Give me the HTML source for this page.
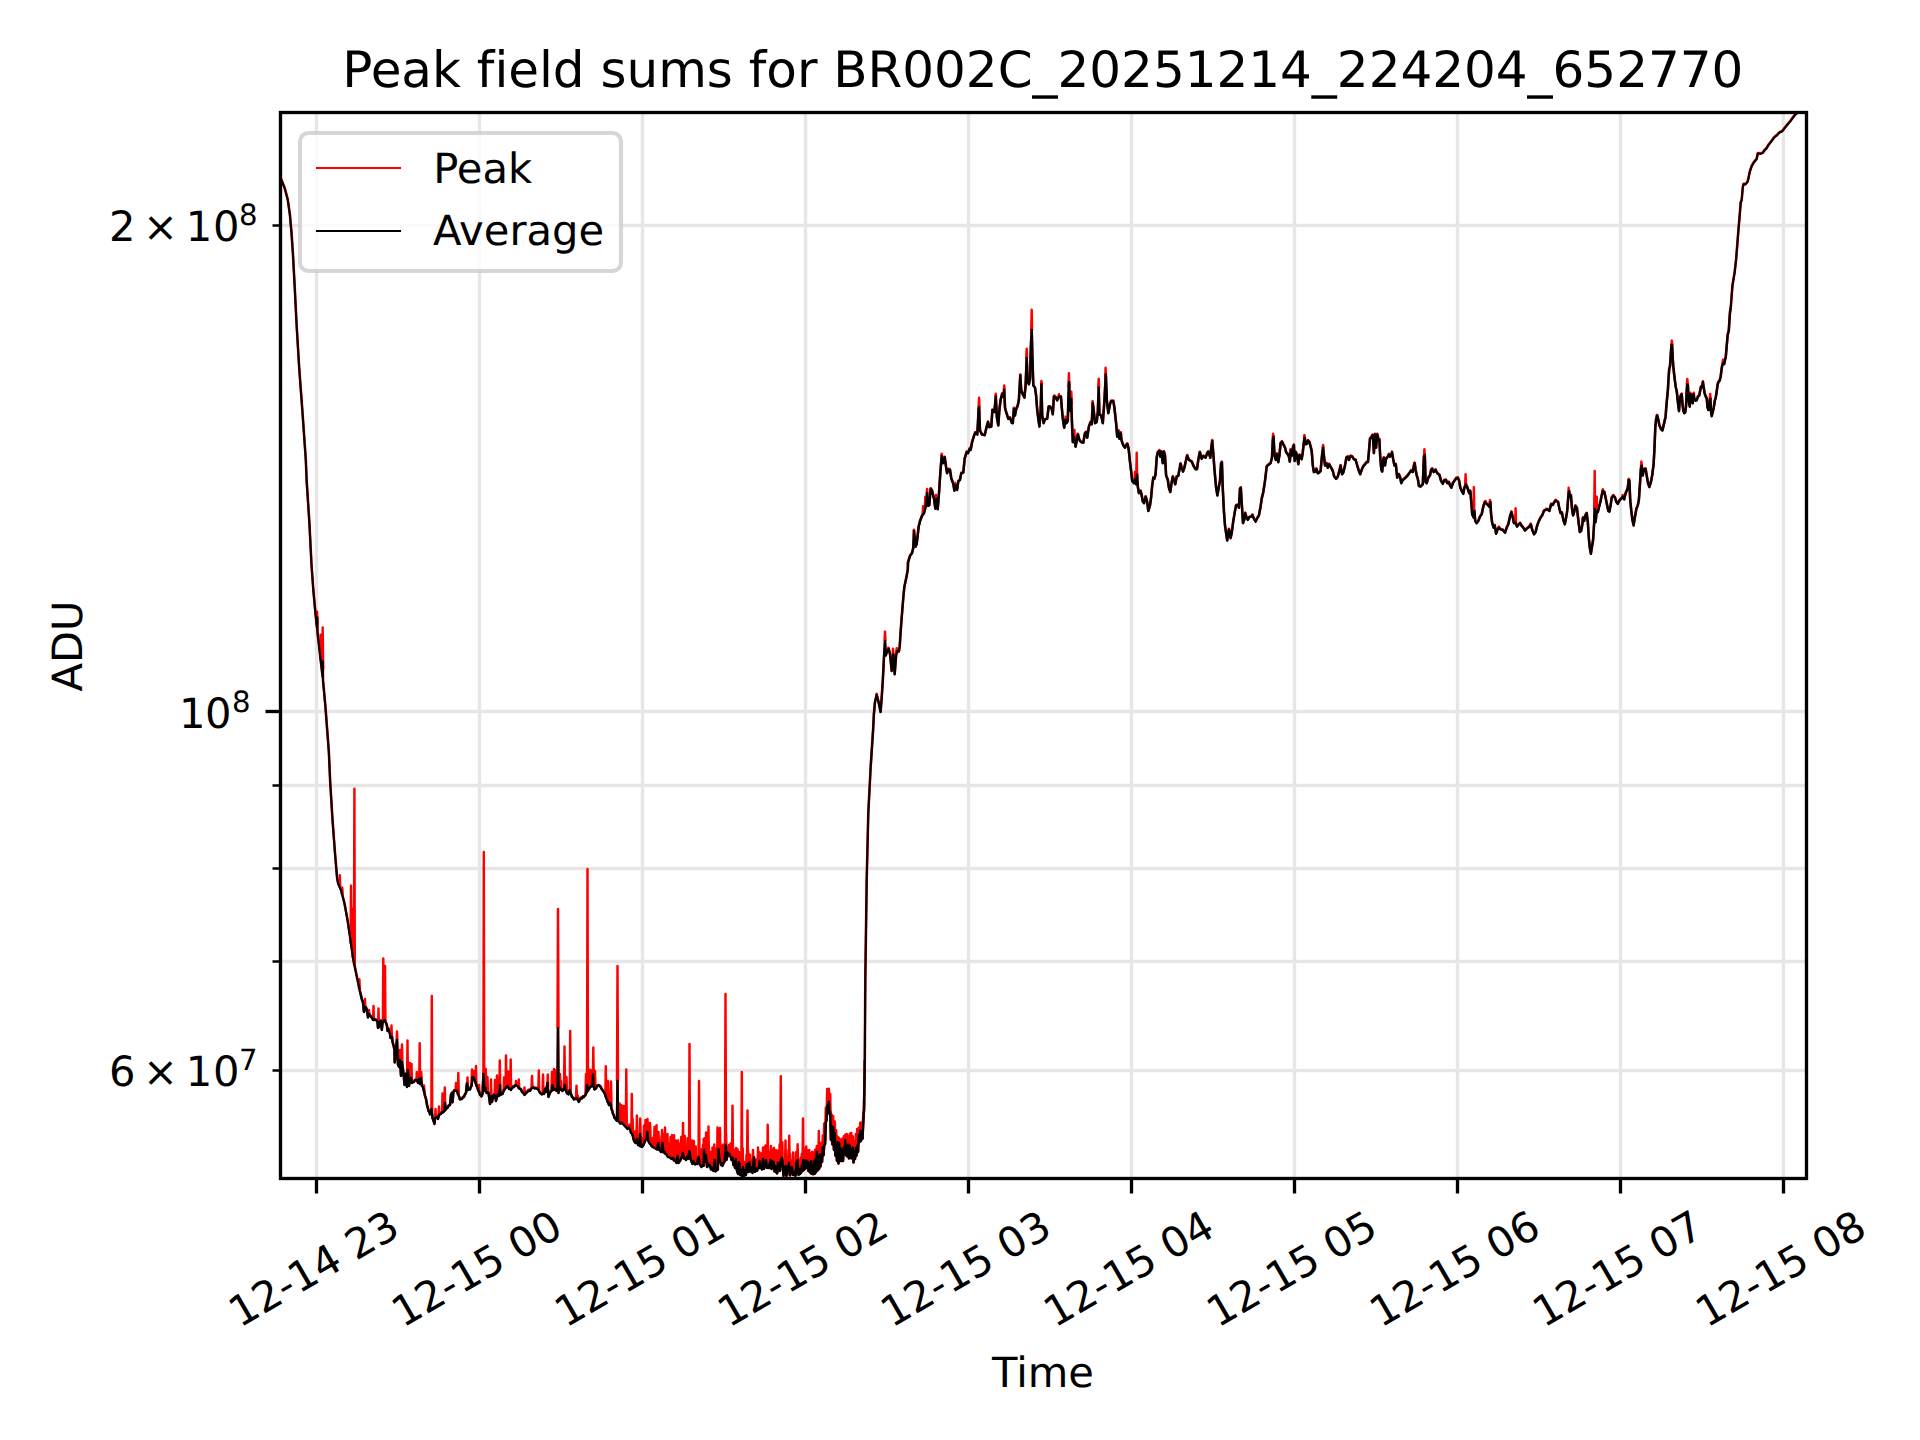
<!DOCTYPE html>
<html><head><meta charset="utf-8"><title>Peak field sums</title>
<style>
html,body{margin:0;padding:0;background:#fff;}
body{width:1920px;height:1440px;overflow:hidden;}
svg{display:block;}
text{font-family:"DejaVu Sans","Liberation Sans",sans-serif;fill:#000;font-variant-ligatures:none;text-rendering:geometricPrecision;font-feature-settings:"liga" 0,"clig" 0;}
.t10{font-size:41.67px;}
.t7{font-size:29.17px;}
.t12{font-size:50px;}
</style></head><body>
<svg width="1920" height="1440" viewBox="0 0 1920 1440">
<rect width="1920" height="1440" fill="#fff"/>
<defs><clipPath id="ax"><rect x="279.63" y="112" width="1526.68" height="1065.6"/></clipPath></defs>

<g stroke="#e6e6e6" stroke-width="3.33" fill="none">
<line x1="316.5" y1="112.5" x2="316.5" y2="1178.5"/>
<line x1="479.5" y1="112.5" x2="479.5" y2="1178.5"/>
<line x1="642.5" y1="112.5" x2="642.5" y2="1178.5"/>
<line x1="805.5" y1="112.5" x2="805.5" y2="1178.5"/>
<line x1="968.5" y1="112.5" x2="968.5" y2="1178.5"/>
<line x1="1131.5" y1="112.5" x2="1131.5" y2="1178.5"/>
<line x1="1294.5" y1="112.5" x2="1294.5" y2="1178.5"/>
<line x1="1457.5" y1="112.5" x2="1457.5" y2="1178.5"/>
<line x1="1620.5" y1="112.5" x2="1620.5" y2="1178.5"/>
<line x1="1783.5" y1="112.5" x2="1783.5" y2="1178.5"/>
<line x1="280.5" y1="225.5" x2="1806.5" y2="225.5"/>
<line x1="280.5" y1="711.5" x2="1806.5" y2="711.5"/>
<line x1="280.5" y1="785.5" x2="1806.5" y2="785.5"/>
<line x1="280.5" y1="868.5" x2="1806.5" y2="868.5"/>
<line x1="280.5" y1="961.5" x2="1806.5" y2="961.5"/>
<line x1="280.5" y1="1070.5" x2="1806.5" y2="1070.5"/>
</g>
<g stroke="#000" stroke-width="3.33" fill="none">
<line x1="316.5" y1="1178.5" x2="316.5" y2="1193.5"/>
<line x1="479.5" y1="1178.5" x2="479.5" y2="1193.5"/>
<line x1="642.5" y1="1178.5" x2="642.5" y2="1193.5"/>
<line x1="805.5" y1="1178.5" x2="805.5" y2="1193.5"/>
<line x1="968.5" y1="1178.5" x2="968.5" y2="1193.5"/>
<line x1="1131.5" y1="1178.5" x2="1131.5" y2="1193.5"/>
<line x1="1294.5" y1="1178.5" x2="1294.5" y2="1193.5"/>
<line x1="1457.5" y1="1178.5" x2="1457.5" y2="1193.5"/>
<line x1="1620.5" y1="1178.5" x2="1620.5" y2="1193.5"/>
<line x1="1783.5" y1="1178.5" x2="1783.5" y2="1193.5"/>
<line x1="265.5" y1="711.5" x2="280.5" y2="711.5"/>
</g><g stroke="#000" stroke-width="2.5" fill="none">
<line x1="272.5" y1="225.5" x2="280.5" y2="225.5"/>
<line x1="272.5" y1="785.5" x2="280.5" y2="785.5"/>
<line x1="272.5" y1="868.5" x2="280.5" y2="868.5"/>
<line x1="272.5" y1="961.5" x2="280.5" y2="961.5"/>
<line x1="272.5" y1="1070.5" x2="280.5" y2="1070.5"/>
</g>
<g clip-path="url(#ax)" fill="none" stroke-linejoin="round" stroke-linecap="butt">
<polyline stroke="#ff0000" stroke-width="2.6" points="279.6,174.1 280.4,177.2 284.6,187.6 287.7,199.1 289.8,213.7 291.5,232.4 292.9,253.2 294.6,284.5 296.7,326.2 299.2,367.8 302.3,409.5 305.8,459.5 306.7,481.2 309.4,522.8 311.5,564.5 313.3,589.5 315.4,612.4 317.0,627.4 317.2,617.0 317.4,630.5 318.1,637.4 321.2,664.5 322.6,676.6 322.8,660.8 323.0,680.3 323.3,683.2 325.4,706.2 328.8,750.8 330.2,782.0 332.5,819.5 335.0,852.8 337.1,877.8 338.1,883.0 341.2,890.3 344.4,902.8 347.5,919.5 350.6,940.3 353.3,959.1 356.7,975.8 359.8,990.3 362.0,999.5 363.0,1002.0 364.0,1011.5 365.0,1009.5 365.5,1006.5 366.2,1007.7 367.0,1009.5 368.0,1017.0 369.0,1013.5 370.0,1014.9 371.0,1016.5 372.0,1017.2 373.0,1019.5 373.8,1019.5 374.5,1018.9 375.2,1019.1 376.0,1019.5 376.8,1020.5 377.5,1021.5 378.0,1027.5 379.0,1026.5 379.5,1021.5 380.2,1020.4 381.0,1020.5 381.8,1029.5 382.5,1022.5 383.5,1021.0 384.5,1019.5 385.5,1021.5 386.2,1023.0 387.0,1025.5 387.5,1030.5 388.5,1028.5 389.2,1031.0 390.0,1033.5 390.5,1037.5 391.2,1036.9 392.0,1036.5 392.5,1041.5 393.5,1045.0 394.5,1049.5 394.7,1062.0 395.5,1055.5 396.5,1043.5 397.0,1039.5 398.0,1064.5 399.0,1066.5 400.0,1059.5 401.0,1075.5 402.0,1061.5 403.0,1069.5 403.8,1075.9 404.5,1084.5 405.5,1073.5 406.2,1079.9 407.0,1086.5 407.8,1069.5 409.0,1085.5 410.0,1079.5 411.0,1077.5 412.0,1082.5 413.0,1081.8 414.0,1081.5 415.0,1079.7 416.0,1079.5 417.0,1079.7 418.0,1082.5 419.0,1078.5 420.0,1083.5 421.0,1077.5 422.0,1085.5 422.8,1086.3 423.5,1088.5 424.2,1091.6 425.0,1095.5 426.0,1098.6 427.0,1104.5 427.8,1107.5 428.5,1110.5 429.2,1111.1 430.0,1114.0 430.8,1111.0 431.5,1108.5 432.5,1117.5 433.5,1120.4 434.5,1123.5 435.0,1118.0 436.0,1117.2 437.0,1116.5 438.0,1118.5 439.0,1114.5 440.0,1113.7 441.0,1113.5 442.0,1111.7 443.0,1112.0 443.8,1111.1 444.5,1110.5 445.0,1102.5 445.5,1109.5 446.5,1107.8 447.5,1107.5 448.3,1105.7 449.2,1105.1 450.0,1104.5 451.0,1094.5 452.0,1092.5 452.5,1102.0 453.5,1091.5 454.2,1090.1 455.0,1090.0 456.0,1090.2 457.0,1090.5 458.0,1093.5 459.0,1096.2 460.0,1099.0 461.0,1098.6 462.0,1098.5 463.0,1096.7 464.0,1096.5 465.0,1094.0 466.0,1092.5 467.0,1083.0 468.0,1089.5 469.0,1088.9 470.0,1089.0 470.8,1086.6 471.5,1085.5 472.5,1076.5 473.2,1076.7 474.0,1078.0 475.0,1080.5 475.8,1082.7 476.5,1085.5 477.2,1086.5 478.0,1089.5 479.0,1091.1 480.0,1094.5 480.8,1095.0 481.5,1096.0 482.5,1093.5 483.5,1073.5 484.5,1090.5 485.5,1087.5 486.5,1092.5 487.5,1091.8 488.5,1092.5 489.2,1097.4 490.0,1103.5 491.0,1095.5 492.0,1101.5 493.0,1096.5 493.8,1094.3 494.5,1094.5 495.2,1096.6 496.0,1100.5 496.8,1097.2 497.5,1094.5 498.2,1093.6 499.0,1095.5 500.0,1084.5 500.5,1094.5 501.5,1093.9 502.5,1093.5 503.3,1091.4 504.2,1089.2 505.0,1088.5 505.8,1087.4 506.7,1085.9 507.5,1085.5 508.2,1087.0 509.0,1088.5 510.0,1088.2 511.0,1089.5 511.8,1087.8 512.5,1087.3 513.2,1086.1 514.0,1086.5 514.8,1085.7 515.7,1084.6 516.5,1085.0 517.3,1085.3 518.2,1086.3 519.0,1088.0 519.8,1088.4 520.5,1088.6 521.2,1089.3 522.0,1091.5 522.8,1092.0 523.7,1092.7 524.5,1094.5 525.3,1093.6 526.2,1092.0 527.0,1092.0 527.8,1090.8 528.5,1089.9 529.2,1089.8 530.0,1090.5 531.0,1088.7 532.0,1087.5 532.8,1087.2 533.5,1086.9 534.2,1087.9 535.0,1088.0 535.8,1087.6 536.5,1088.1 537.2,1088.3 538.0,1088.5 539.0,1090.5 540.0,1092.5 542.0,1094.0 543.0,1092.9 544.0,1093.5 545.0,1088.5 546.0,1091.5 546.8,1086.9 547.5,1082.5 548.5,1096.5 549.2,1094.3 550.0,1092.5 550.8,1091.1 551.5,1090.5 552.5,1084.5 553.5,1089.5 554.2,1088.2 555.0,1089.0 555.8,1089.7 556.5,1090.5 557.5,1089.5 558.0,1028.0 558.5,1092.5 559.5,1086.5 560.2,1087.6 561.0,1089.5 561.8,1089.4 562.5,1090.5 563.2,1088.7 564.0,1089.0 564.8,1084.5 565.5,1089.5 566.2,1090.3 567.0,1093.0 567.8,1092.5 568.5,1094.0 569.8,1089.5 570.5,1092.5 571.2,1094.3 572.0,1096.5 573.0,1097.4 574.0,1099.0 574.8,1098.4 575.5,1098.5 576.5,1097.5 577.5,1099.0 578.8,1101.5 580.0,1099.0 581.0,1097.5 582.0,1098.0 583.0,1096.1 584.0,1096.5 584.8,1095.4 585.5,1094.5 586.5,1091.5 587.0,1084.5 588.0,1090.5 589.0,1088.5 590.0,1086.5 590.8,1086.1 591.5,1086.0 592.5,1084.5 593.0,1074.0 593.5,1085.5 594.5,1089.0 595.2,1088.3 596.0,1088.0 597.0,1085.5 597.8,1085.1 598.5,1085.0 599.2,1085.0 600.0,1086.0 600.8,1086.6 601.5,1088.5 602.2,1089.3 603.0,1090.5 603.8,1091.5 604.5,1092.5 605.2,1094.4 606.0,1097.0 606.8,1098.7 607.5,1101.0 608.2,1102.2 609.0,1104.5 609.8,1102.6 610.5,1103.0 611.5,1108.5 612.2,1110.3 613.0,1113.5 613.8,1115.0 614.5,1117.5 615.2,1117.9 616.0,1119.5 617.0,1120.5 617.5,1080.5 618.0,1120.5 619.0,1121.0 620.0,1123.0 620.8,1123.1 621.5,1122.2 622.2,1122.5 623.0,1123.5 627.5,1128.5 628.5,1127.0 629.5,1128.5 630.2,1129.2 631.0,1132.5 631.8,1133.0 632.5,1134.5 633.2,1137.0 634.0,1140.5 634.8,1141.4 635.5,1142.5 636.8,1138.5 638.0,1144.5 638.8,1144.0 639.5,1145.5 640.0,1133.5 640.8,1146.0 642.0,1146.5 642.8,1145.5 643.5,1144.5 644.2,1142.4 645.0,1140.5 645.8,1139.3 646.5,1138.5 647.5,1131.5 648.2,1140.5 649.1,1141.8 650.0,1143.5 651.0,1144.3 652.0,1146.0 652.8,1146.5 653.7,1147.0 654.5,1147.5 655.3,1147.8 656.2,1148.4 657.0,1149.0 658.3,1142.5 659.0,1149.5 660.0,1150.0 661.0,1151.5 661.8,1147.0 662.5,1142.5 663.5,1152.0 664.5,1151.2 665.5,1153.5 666.3,1153.5 667.2,1155.3 668.0,1156.5 668.8,1156.6 669.5,1156.8 670.2,1157.1 671.0,1158.0 671.8,1158.4 672.5,1157.5 673.2,1157.7 674.0,1160.0 674.8,1159.5 675.7,1160.3 676.5,1162.5 677.5,1155.5 678.5,1162.5 679.2,1161.4 680.0,1160.5 680.8,1158.8 681.5,1157.5 682.8,1152.5 683.8,1158.0 684.5,1157.6 685.3,1158.4 686.0,1159.5 687.0,1156.3 688.0,1158.5 688.8,1154.2 689.5,1150.5 690.5,1158.5 691.5,1161.0 692.5,1163.5 693.3,1160.4 694.2,1162.3 695.0,1164.0 696.0,1163.5 697.0,1163.5 697.9,1158.4 698.8,1156.5 699.5,1163.5 700.5,1165.0 701.5,1166.5 702.5,1164.5 703.5,1165.5 704.0,1149.5 705.0,1161.5 706.0,1154.5 707.0,1166.5 708.0,1162.6 709.0,1165.5 710.0,1164.4 711.0,1169.0 711.8,1167.3 712.7,1169.4 713.5,1170.5 714.5,1159.5 715.5,1171.0 716.5,1169.3 717.5,1169.5 718.5,1148.5 719.5,1158.5 720.2,1161.2 721.0,1164.5 721.8,1162.5 722.5,1165.5 723.5,1162.0 724.5,1161.5 725.8,1144.5 726.5,1159.5 727.5,1151.9 728.5,1154.5 729.2,1153.3 730.0,1155.5 730.8,1156.5 731.5,1159.5 732.5,1157.0 733.5,1164.5 734.2,1160.7 735.0,1167.5 735.8,1158.5 736.8,1169.5 738.0,1173.5 738.8,1161.6 739.5,1163.5 740.0,1174.5 741.0,1169.6 742.0,1176.0 743.0,1166.5 744.0,1176.0 745.0,1170.0 746.0,1174.5 746.8,1163.6 747.5,1163.5 748.5,1171.5 749.5,1162.0 750.5,1171.0 751.5,1167.0 752.5,1172.5 753.2,1163.7 754.0,1157.0 755.0,1171.5 756.0,1168.0 757.0,1170.5 758.0,1167.2 759.0,1167.5 759.5,1160.5 760.5,1166.5 761.2,1167.7 762.0,1169.0 763.0,1158.5 764.0,1168.5 765.0,1163.9 766.0,1159.5 767.0,1167.5 768.0,1166.2 769.0,1167.5 769.8,1162.3 770.5,1159.5 771.5,1168.5 772.5,1160.7 773.5,1161.5 774.5,1171.0 775.3,1165.1 776.2,1169.9 777.0,1173.0 778.0,1162.3 779.0,1164.5 780.0,1170.5 780.8,1160.3 781.7,1157.2 782.5,1160.5 783.5,1175.5 784.5,1168.6 785.5,1165.5 786.5,1175.5 787.3,1170.2 788.2,1165.8 789.0,1162.5 790.0,1175.0 791.0,1169.9 792.0,1166.5 793.0,1174.5 793.8,1173.9 794.7,1171.4 795.5,1175.5 796.5,1161.4 797.5,1159.5 798.5,1174.5 799.2,1168.4 800.0,1173.5 801.0,1171.8 801.8,1165.0 802.5,1170.6 803.2,1159.6 804.0,1169.3 804.8,1160.0 805.5,1168.0 806.2,1160.0 807.0,1166.5 807.8,1161.4 808.5,1170.5 809.2,1163.0 810.0,1172.0 810.8,1160.7 811.5,1173.2 812.2,1164.8 813.0,1173.7 813.8,1160.7 814.5,1173.4 815.2,1158.7 816.0,1171.7 816.8,1151.3 817.5,1170.0 818.2,1156.3 819.0,1168.5 819.8,1153.9 820.5,1166.0 821.2,1155.1 822.0,1161.5 822.8,1146.7 823.5,1154.8 824.2,1145.1 825.0,1143.8 825.8,1122.3 826.5,1119.5 827.2,1105.2 828.0,1105.5 828.8,1101.2 829.5,1113.5 830.2,1111.5 831.0,1139.5 831.8,1125.8 832.5,1144.0 833.2,1126.8 834.0,1149.5 834.8,1132.4 835.5,1155.2 836.2,1144.7 837.0,1160.5 837.8,1141.6 838.5,1163.0 839.2,1142.7 840.0,1160.5 840.8,1147.9 841.5,1160.5 842.2,1149.7 843.0,1160.5 843.8,1146.5 844.5,1153.5 845.2,1139.8 846.0,1154.7 846.8,1146.0 847.5,1156.1 848.2,1144.1 849.0,1157.9 849.8,1145.0 850.5,1157.5 851.2,1148.7 852.0,1157.9 852.8,1147.0 853.5,1162.0 854.2,1151.5 855.0,1158.6 855.8,1147.7 856.5,1155.1 857.2,1145.3 858.0,1151.5 858.8,1134.3 859.5,1141.5 860.2,1130.2 861.0,1140.5 861.8,1131.5 862.5,1138.1 863.2,1123.2 864.0,1109.5 864.8,1059.5 865.3,979.5 866.7,879.5 868.3,812.8 870.7,766.2 873.1,729.5 873.9,713.9 875.0,701.7 876.7,694.5 878.3,700.6 880.6,711.7 881.7,697.3 882.8,680.6 883.9,658.4 885.0,640.6 885.8,655.1 887.2,650.6 888.7,648.4 890.0,653.9 891.7,670.6 892.8,656.2 893.3,653.9 894.7,673.9 896.1,655.1 897.2,650.6 898.9,651.2 899.8,645.1 900.6,631.7 901.7,617.3 903.3,597.3 904.4,586.2 906.1,578.4 907.8,569.5 908.0,562.2 910.0,555.5 912.0,552.8 913.3,547.5 914.0,530.8 915.6,546.2 916.7,543.5 918.7,526.2 920.0,520.8 922.0,515.5 924.0,512.8 926.0,504.8 927.1,492.8 928.0,505.5 929.3,504.8 930.7,488.2 932.0,490.2 934.0,498.2 935.3,508.2 936.4,498.2 937.7,508.8 939.1,491.5 940.4,471.5 941.7,455.5 943.1,462.8 944.7,456.8 946.0,466.2 947.1,472.8 948.7,468.8 950.0,469.5 951.3,478.2 953.3,483.5 954.4,490.2 955.7,484.8 957.1,489.5 958.3,480.8 960.0,479.5 961.3,472.8 963.3,472.2 964.7,458.2 966.7,451.5 968.0,452.8 969.7,448.2 970.7,449.5 972.0,442.2 974.0,435.5 975.3,432.2 977.3,434.2 978.7,407.5 979.1,406.8 980.0,430.2 982.0,434.2 984.7,434.8 986.7,426.2 988.0,421.5 989.3,426.8 991.3,426.2 992.4,409.5 994.4,411.7 995.8,396.2 996.9,417.3 998.3,425.1 999.4,409.5 1000.6,399.5 1002.2,393.4 1003.3,396.2 1004.2,389.5 1005.0,407.3 1006.1,411.7 1008.3,418.4 1010.0,417.3 1011.7,422.3 1012.8,422.8 1013.9,408.4 1015.0,415.1 1016.1,408.9 1017.8,405.1 1018.9,399.5 1020.3,375.1 1021.3,390.6 1022.8,393.9 1024.4,397.3 1025.6,385.1 1026.7,357.8 1027.6,380.6 1028.9,383.9 1030.0,378.4 1030.9,345.1 1031.7,329.5 1032.4,356.2 1033.3,385.1 1035.0,387.3 1036.1,395.1 1037.2,409.5 1038.3,418.4 1039.4,426.2 1040.6,411.7 1041.4,383.9 1042.2,415.1 1043.6,422.8 1045.0,418.9 1047.2,418.4 1048.7,406.2 1050.0,406.2 1051.7,408.4 1052.8,413.9 1053.9,396.2 1055.6,396.7 1057.2,400.1 1058.9,396.2 1060.9,396.2 1061.7,406.2 1062.8,418.4 1064.2,427.3 1065.3,419.5 1066.4,422.8 1067.8,420.6 1068.3,400.6 1069.1,381.7 1070.0,410.1 1071.1,398.4 1072.0,422.8 1072.8,441.7 1073.9,436.2 1075.6,446.2 1076.7,440.6 1077.8,433.9 1079.4,439.5 1081.1,441.7 1083.3,442.3 1085.0,432.8 1086.1,431.7 1087.2,437.3 1088.9,426.2 1090.6,421.7 1091.7,423.9 1092.8,402.8 1093.9,411.7 1095.0,422.8 1096.7,421.7 1097.8,411.7 1098.7,387.3 1099.4,413.9 1101.1,415.1 1102.8,422.8 1104.4,400.6 1105.8,373.9 1106.9,400.6 1108.3,412.8 1110.0,403.9 1111.1,400.6 1113.3,400.6 1114.4,407.3 1116.1,422.8 1117.2,436.2 1118.3,430.6 1119.4,438.4 1120.6,432.8 1121.7,440.6 1123.3,445.1 1125.0,447.3 1126.7,443.9 1127.4,443.4 1128.6,448.4 1130.0,461.7 1131.1,470.6 1132.2,480.6 1133.9,482.8 1135.0,478.9 1136.1,483.9 1137.0,473.9 1137.8,486.2 1138.9,492.8 1140.6,490.6 1141.7,495.1 1142.8,501.2 1144.1,502.8 1145.6,496.2 1147.2,501.7 1148.3,510.6 1150.0,505.1 1151.1,497.3 1152.2,485.1 1153.3,477.3 1154.4,478.4 1155.6,473.9 1156.7,457.3 1157.8,451.7 1159.4,450.6 1160.3,456.2 1161.4,451.2 1162.8,462.8 1163.9,451.2 1165.0,455.1 1166.1,475.1 1167.8,479.5 1168.9,487.3 1170.3,491.7 1171.7,481.7 1172.8,476.2 1173.9,479.5 1175.2,483.9 1176.7,476.2 1178.3,475.6 1179.4,469.5 1180.6,463.4 1181.7,467.3 1183.0,471.2 1184.4,467.3 1185.6,461.7 1187.2,455.1 1188.9,459.5 1191.7,461.2 1193.9,466.2 1195.6,468.9 1197.0,468.9 1198.3,459.5 1199.8,451.7 1201.7,458.4 1203.3,455.6 1205.6,457.3 1207.2,452.8 1208.3,451.2 1210.3,457.3 1211.4,446.2 1212.2,440.6 1213.3,452.8 1214.4,468.4 1216.1,487.3 1217.4,495.1 1218.9,486.2 1220.0,480.6 1221.1,462.8 1221.9,461.7 1222.8,488.4 1223.9,510.6 1225.0,525.1 1226.1,532.8 1227.2,540.1 1228.9,528.9 1230.6,537.8 1231.7,532.8 1233.3,520.6 1235.0,510.6 1236.1,505.1 1237.8,504.5 1238.9,507.3 1240.0,488.4 1240.8,487.3 1241.9,505.1 1243.0,522.8 1244.4,518.9 1245.2,512.8 1246.3,516.2 1247.8,519.5 1249.4,516.7 1251.1,516.2 1252.4,514.5 1253.9,518.4 1255.6,521.2 1257.2,517.8 1258.9,515.1 1260.6,506.2 1261.7,498.4 1263.3,491.7 1265.0,480.6 1266.7,466.2 1268.3,464.5 1270.6,462.8 1272.0,457.3 1272.8,439.5 1273.6,436.2 1274.4,453.9 1275.8,459.5 1276.9,453.9 1278.3,461.7 1279.4,455.1 1280.6,442.8 1282.0,441.2 1283.3,443.9 1285.0,447.3 1286.1,451.7 1287.8,453.9 1288.9,456.2 1289.8,461.2 1290.9,449.5 1292.2,455.1 1293.1,446.2 1293.9,444.5 1294.7,460.6 1295.8,451.7 1297.2,456.2 1298.3,463.9 1299.4,454.5 1300.6,456.2 1301.7,458.9 1302.8,451.7 1303.9,441.7 1304.7,437.3 1305.8,443.9 1306.9,443.4 1308.0,440.1 1309.4,441.7 1310.6,446.2 1311.7,450.6 1312.8,465.1 1313.9,471.7 1315.3,471.2 1316.4,468.4 1317.8,472.8 1319.1,472.3 1320.6,470.6 1321.7,458.4 1322.4,451.7 1323.1,447.3 1323.9,455.1 1325.0,465.1 1326.4,462.8 1327.8,467.3 1329.1,463.9 1331.1,467.3 1332.8,470.6 1334.2,476.2 1336.1,478.4 1337.8,476.2 1339.1,471.7 1340.6,465.1 1342.0,473.9 1343.3,472.3 1345.0,465.1 1346.4,457.3 1347.8,456.2 1348.9,459.5 1350.6,455.6 1352.2,456.2 1353.9,458.9 1355.6,459.5 1357.2,465.1 1358.9,470.6 1360.2,473.9 1361.7,469.5 1363.1,466.2 1365.0,463.9 1366.7,461.7 1368.0,461.7 1368.9,451.7 1370.0,438.4 1371.7,436.2 1372.8,434.5 1373.9,452.8 1375.0,433.9 1376.1,447.3 1377.2,433.9 1378.3,438.9 1379.4,439.5 1380.2,456.2 1381.3,469.5 1382.2,471.2 1383.1,460.6 1383.9,457.3 1385.0,465.1 1386.1,458.4 1387.8,456.2 1388.9,453.9 1390.0,456.2 1391.1,455.1 1392.0,451.7 1393.1,458.4 1394.4,465.1 1395.8,463.9 1397.2,477.3 1398.9,473.9 1400.2,477.3 1401.3,482.8 1402.8,479.5 1404.4,478.4 1406.7,476.2 1408.9,473.4 1411.1,470.1 1412.8,471.7 1413.9,465.1 1414.7,462.8 1415.6,469.5 1416.7,475.1 1417.8,478.4 1418.9,485.6 1420.6,486.2 1422.8,483.9 1423.9,456.2 1424.8,454.5 1425.6,481.7 1426.7,482.8 1428.3,477.3 1430.0,475.1 1431.1,469.5 1432.2,468.4 1433.7,471.7 1435.6,469.5 1437.2,472.8 1439.4,474.5 1441.1,480.6 1442.8,483.4 1444.1,480.1 1445.9,479.5 1447.2,482.8 1448.9,481.7 1450.0,485.1 1451.4,487.3 1452.8,482.8 1454.4,480.6 1456.1,477.8 1457.8,477.3 1459.2,480.6 1460.3,487.3 1461.7,490.6 1463.3,493.4 1464.4,487.3 1465.9,483.9 1467.0,486.2 1468.1,489.5 1469.2,492.8 1470.3,490.6 1471.4,502.8 1472.2,513.9 1473.7,517.3 1474.4,510.6 1475.2,520.6 1476.7,522.8 1478.3,520.6 1480.0,516.2 1481.7,513.9 1483.3,506.2 1484.8,501.7 1486.1,502.8 1487.8,504.5 1489.2,506.2 1490.3,501.7 1491.1,513.9 1492.2,522.8 1493.7,527.3 1494.8,525.1 1496.1,533.4 1497.4,529.5 1498.9,527.3 1500.6,528.9 1502.8,529.5 1505.0,532.3 1506.7,527.3 1508.3,523.9 1510.0,516.2 1511.4,511.7 1512.6,516.2 1513.9,522.8 1515.6,522.3 1517.0,526.2 1518.3,524.5 1520.0,522.8 1521.4,525.1 1523.3,527.3 1525.0,530.1 1527.2,527.8 1528.9,526.7 1530.8,523.9 1532.2,529.5 1534.1,533.9 1535.6,531.7 1537.2,525.1 1538.9,520.6 1540.6,517.3 1542.2,515.1 1543.9,510.6 1545.6,509.5 1547.2,508.9 1549.4,510.6 1551.1,503.9 1552.8,504.5 1554.4,501.7 1555.9,500.1 1558.1,501.7 1559.4,508.4 1560.6,512.8 1561.9,512.3 1562.0,512.8 1563.3,519.5 1564.8,523.9 1566.1,517.3 1567.2,510.6 1568.3,496.2 1569.1,490.6 1570.0,496.2 1570.9,495.1 1572.0,508.4 1573.1,515.1 1574.2,511.7 1575.3,505.6 1576.9,507.3 1578.3,519.5 1579.8,531.7 1581.1,530.6 1582.2,525.1 1583.1,517.3 1584.2,520.6 1585.3,515.1 1586.7,512.8 1587.8,521.7 1588.9,538.4 1589.8,547.3 1590.9,553.4 1592.0,546.2 1593.1,539.5 1594.2,521.7 1594.7,508.4 1595.6,521.7 1596.7,510.6 1597.8,511.7 1598.9,507.3 1600.6,500.6 1601.7,495.1 1602.8,490.6 1604.4,491.7 1605.6,497.3 1606.9,503.9 1608.3,510.6 1609.4,511.2 1610.6,505.1 1611.7,497.3 1613.3,495.1 1615.0,497.3 1616.4,501.7 1617.8,503.4 1619.4,500.1 1621.1,498.4 1622.8,496.2 1624.2,498.9 1625.6,492.8 1626.7,490.6 1627.8,487.3 1628.7,479.5 1629.4,480.6 1630.2,499.5 1631.3,510.6 1632.4,519.5 1633.6,525.1 1635.0,516.2 1636.4,508.4 1637.8,505.1 1638.9,499.5 1640.0,482.8 1640.9,468.4 1641.7,465.1 1642.8,475.1 1643.9,468.9 1645.6,468.4 1646.7,475.1 1648.0,482.8 1649.4,486.7 1650.9,481.7 1652.2,475.1 1653.6,463.9 1654.4,449.5 1655.3,427.3 1656.1,418.9 1657.2,415.1 1658.3,419.5 1659.4,425.1 1661.1,428.9 1662.4,430.1 1663.9,423.9 1665.6,416.2 1666.2,407.8 1667.1,397.8 1667.9,389.5 1668.5,378.7 1669.2,368.7 1670.0,366.2 1670.8,353.7 1671.5,344.5 1672.1,344.5 1672.7,357.8 1673.3,366.2 1674.2,374.5 1675.0,381.2 1675.8,387.0 1676.8,391.2 1677.9,402.0 1679.0,410.8 1679.8,399.5 1680.7,395.3 1681.7,393.7 1682.5,403.7 1683.3,410.3 1684.2,412.8 1685.2,412.0 1686.0,406.2 1686.7,391.2 1687.2,383.7 1687.9,384.5 1688.5,397.8 1689.2,403.7 1689.8,406.2 1690.4,393.7 1691.0,394.5 1691.7,399.5 1692.7,402.8 1693.5,393.7 1694.2,397.8 1695.4,400.3 1696.7,399.9 1697.9,396.2 1699.2,395.3 1700.0,391.2 1701.0,386.2 1702.1,386.2 1702.9,381.6 1703.8,387.8 1704.6,392.8 1705.7,396.2 1706.7,397.8 1707.5,407.0 1708.3,409.5 1709.2,408.7 1709.8,399.5 1710.4,398.2 1711.0,411.2 1711.7,415.8 1712.7,412.0 1713.8,407.0 1714.8,400.3 1715.8,397.0 1716.7,391.2 1717.7,383.7 1718.5,381.6 1719.6,380.3 1720.7,376.2 1721.5,369.5 1722.3,364.5 1723.2,362.8 1724.2,363.7 1725.0,359.5 1725.8,356.2 1726.5,347.8 1727.1,341.2 1727.7,334.5 1728.8,330.3 1729.3,322.0 1730.0,312.0 1730.8,307.0 1732.4,285.6 1733.3,280.1 1734.7,271.7 1736.1,259.2 1737.2,245.3 1738.3,231.4 1739.7,214.8 1740.7,202.3 1741.7,199.5 1742.8,187.0 1743.5,183.9 1745.6,183.9 1747.6,181.4 1748.6,177.3 1749.7,171.7 1751.8,165.5 1753.9,162.0 1756.7,158.5 1757.8,153.0 1760.8,153.4 1762.9,152.3 1764.3,150.2 1766.4,148.1 1768.5,144.6 1771.2,141.2 1774.0,137.3 1776.8,134.9 1779.6,132.1 1782.4,130.8 1784.4,128.0 1787.2,124.5 1790.7,120.3 1794.2,115.5 1796.9,112.7 1799.7,112.0 1806.7,111.7"/>
<polyline stroke="#ff0000" stroke-width="2.5" points="801.0,1172.3 801.8,1154.1 802.5,1171.1 803.2,1150.5 804.0,1169.8 804.8,1149.0 805.5,1168.5 806.2,1146.5 807.0,1167.0 807.8,1150.6 808.5,1171.0 809.2,1150.1 810.0,1172.5 810.8,1153.5 811.5,1173.7 812.2,1151.8 813.0,1174.2 813.8,1152.6 814.5,1173.9 815.2,1149.7 816.0,1172.2 816.8,1146.0 817.5,1170.5 818.2,1146.0 819.0,1169.0 819.8,1144.7 820.5,1166.5 821.2,1142.7 822.0,1162.0 822.8,1135.2 823.5,1155.2 824.2,1123.5 825.0,1144.3 825.8,1107.7 826.5,1120.0 827.2,1088.9 828.0,1106.0 828.8,1088.8 829.5,1114.0 830.2,1093.9 831.0,1140.0 831.8,1114.7 832.5,1144.5 833.2,1116.2 834.0,1150.0 834.8,1121.6 835.5,1155.8 836.2,1130.2 837.0,1161.0 837.8,1136.7 838.5,1163.5 839.2,1138.1 840.0,1161.0 840.8,1139.8 841.5,1161.0 842.2,1138.8 843.0,1161.0 843.8,1136.3 844.5,1154.0 845.2,1134.7 846.0,1155.2 846.8,1133.9 847.5,1156.6 848.2,1136.2 849.0,1158.4 849.8,1133.7 850.5,1158.0 851.2,1132.9 852.0,1158.4 852.8,1136.2 853.5,1162.5 854.2,1141.7 855.0,1159.1 855.8,1134.3 856.5,1155.6 857.2,1129.1 858.0,1152.0 858.8,1127.7 859.5,1142.0 860.2,1122.7 861.0,1141.0 861.8,1122.2 862.5,1138.6 863.2,1113.2 864.0,1110.0 864.8,1060.0"/>
<path stroke="#ff0000" stroke-width="2.45" stroke-linejoin="round" d="M316.6,625.3L317.1,611.8L317.5,625.3M322.3,669.2L322.7,627.5L323.2,669.2M320.2,659.6L320.6,634.8L321.1,659.6M339.3,887.4L339.8,875.2L340.2,887.4M341.8,895.0L342.3,887.7L342.7,895.0M350.6,943.7L351.0,885.6L351.5,943.7M352.7,958.1L353.1,908.5L353.6,958.1M353.9,964.8L354.4,788.7L354.8,964.8M358.9,988.9L359.4,979.3L359.8,988.9M364.6,1010.0L365.0,999.0L365.4,1010.0M368.6,1014.0L369.0,1010.0L369.4,1014.0M373.1,1020.0L373.5,1006.0L373.9,1020.0M378.1,1027.5L378.5,1008.5L378.9,1027.5M382.9,1021.8L383.3,958.5L383.8,1021.8M384.6,1021.0L385.0,966.0L385.4,1021.0M391.1,1037.3L391.5,1025.5L391.9,1037.3M396.6,1040.0L397.0,1031.5L397.4,1040.0M399.6,1060.0L400.0,1050.0L400.4,1060.0M401.6,1062.0L402.0,1044.5L402.4,1062.0M407.1,1076.4L407.5,1040.5L407.9,1076.4M409.6,1080.0L410.0,1063.0L410.4,1080.0M411.1,1080.5L411.5,1064.0L411.9,1080.5M416.4,1081.2L416.8,1072.0L417.2,1081.2M419.2,1082.5L419.7,1043.2L420.1,1082.5M420.8,1079.6L421.2,1072.0L421.6,1079.6M423.6,1091.3L424.0,1085.5L424.4,1091.3M431.4,1111.7L431.8,996.0L432.2,1111.7M435.1,1118.1L435.5,1109.0L435.9,1118.1M438.6,1115.0L439.0,1106.5L439.4,1115.0M442.1,1112.9L442.5,1093.5L442.9,1112.9M444.4,1106.2L444.8,1087.5L445.2,1106.2M455.6,1090.8L456.0,1083.0L456.4,1090.8M457.9,1094.8L458.3,1073.0L458.8,1094.8M467.1,1086.8L467.5,1077.5L467.9,1086.8M471.6,1081.5L472.0,1069.5L472.4,1081.5M473.6,1078.5L474.0,1071.0L474.4,1078.5M475.6,1084.3L476.0,1066.0L476.4,1084.3M478.6,1092.5L479.0,1085.0L479.4,1092.5M483.4,1079.1L483.8,852.0L484.2,1079.1M485.4,1089.5L485.8,1069.0L486.2,1089.5M487.1,1093.0L487.5,1077.0L487.9,1093.0M490.6,1096.0L491.0,1079.5L491.4,1096.0M494.6,1097.0L495.0,1080.0L495.4,1097.0M496.6,1097.0L497.0,1075.5L497.4,1097.0M499.4,1087.2L499.8,1060.5L500.2,1087.2M503.6,1091.0L504.0,1077.5L504.4,1091.0M505.6,1087.8L506.0,1055.5L506.4,1087.8M507.8,1087.4L508.2,1071.5L508.6,1087.4M510.2,1089.8L510.7,1059.5L511.1,1089.8M515.5,1085.8L516.0,1081.0L516.5,1085.8M518.3,1088.3L518.8,1079.5L519.2,1088.3M524.0,1095.0L524.5,1087.5L525.0,1095.0M531.5,1088.0L532.0,1076.0L532.5,1088.0M538.3,1090.6L538.8,1070.5L539.2,1090.6M542.5,1094.2L543.0,1074.5L543.5,1094.2M547.3,1087.2L547.8,1074.5L548.2,1087.2M551.5,1088.0L552.0,1072.0L552.5,1088.0M553.5,1089.8L554.0,1069.0L554.5,1089.8M554.5,1089.5L555.0,1070.0L555.5,1089.5M557.5,1028.5L558.0,909.0L558.5,1028.5M559.5,1088.0L560.0,1074.0L560.5,1088.0M560.5,1090.0L561.0,1081.0L561.5,1090.0M564.0,1086.7L564.5,1046.5L565.0,1086.7M566.0,1092.3L566.5,1077.0L567.0,1092.3M569.8,1091.7L570.2,1031.0L570.7,1091.7M576.0,1098.0L576.5,1085.8L577.0,1098.0M577.5,1100.5L578.0,1096.0L578.5,1100.5M585.5,1093.5L586.0,1074.0L586.5,1093.5M587.0,1088.0L587.5,869.0L588.0,1088.0M588.5,1089.0L589.0,1069.5L589.5,1089.0M590.0,1086.8L590.5,1070.0L591.0,1086.8M592.8,1081.4L593.3,1047.5L593.8,1081.4M594.5,1089.2L595.0,1071.0L595.5,1089.2M605.3,1096.9L605.8,1066.2L606.2,1096.9M607.5,1102.7L608.0,1081.0L608.5,1102.7M610.5,1106.2L611.0,1081.5L611.5,1106.2M617.0,1081.0L617.5,966.0L618.0,1081.0M619.0,1122.9L619.5,1103.5L620.0,1122.9M620.5,1123.7L621.0,1105.0L621.5,1123.7M622.5,1124.0L623.0,1106.0L623.5,1124.0M624.5,1123.7L625.0,1106.0L625.5,1123.7M625.8,1126.0L626.3,1069.5L626.8,1126.0M631.3,1134.1L631.8,1094.0L632.2,1134.1M636.3,1139.0L636.8,1121.5L637.2,1139.0M639.8,1137.1L640.2,1118.5L640.7,1137.1M645.0,1140.3L645.5,1120.0L646.0,1140.3M647.0,1132.0L647.5,1119.0L648.0,1132.0M649.5,1144.0L650.0,1123.0L650.5,1144.0M654.0,1148.0L654.5,1127.0L655.0,1148.0M658.0,1145.0L658.5,1132.0L659.0,1145.0M661.5,1146.0L662.0,1130.0L662.5,1146.0M664.5,1153.6L665.0,1127.5L665.5,1153.6M667.0,1156.4L667.5,1134.0L668.0,1156.4M670.0,1158.2L670.5,1137.0L671.0,1158.2M675.0,1162.0L675.5,1140.5L676.0,1162.0M677.5,1159.5L678.0,1140.5L678.5,1159.5M680.8,1158.6L681.2,1137.0L681.7,1158.6M682.5,1154.1L683.0,1123.0L683.5,1154.1M689.0,1151.0L689.5,1044.0L690.0,1151.0M691.5,1162.8L692.0,1140.5L692.5,1162.8M694.5,1164.5L695.0,1147.0L695.5,1164.5M698.5,1159.0L699.0,1081.0L699.5,1159.0M702.5,1166.2L703.0,1145.0L703.5,1166.2M706.0,1161.0L706.5,1144.0L707.0,1161.0M708.0,1166.2L708.5,1126.5L709.0,1166.2M712.0,1170.4L712.5,1147.5L713.0,1170.4M714.5,1165.8L715.0,1148.5L715.5,1165.8M717.0,1170.0L717.5,1127.5L718.0,1170.0M719.5,1161.0L720.0,1128.0L720.5,1161.0M725.0,1148.9L725.5,994.0L726.0,1148.9M732.0,1157.5L732.5,1105.8L733.0,1157.5M735.5,1161.2L736.0,1148.0L736.5,1161.2M738.5,1167.3L739.0,1152.0L739.5,1167.3M741.3,1176.3L741.8,1072.0L742.2,1176.3M747.0,1164.0L747.5,1110.5L748.0,1164.0M752.5,1167.8L753.0,1150.0L753.5,1167.8M757.5,1169.5L758.0,1147.5L758.5,1169.5M762.5,1159.0L763.0,1147.5L763.5,1159.0M765.0,1162.2L765.5,1145.5L766.0,1162.2M767.2,1168.0L767.7,1124.8L768.2,1168.0M770.5,1164.5L771.0,1146.0L771.5,1164.5M773.5,1166.8L774.0,1148.0L774.5,1166.8M776.5,1173.5L777.0,1150.5L777.5,1173.5M780.3,1167.8L780.8,1076.2L781.2,1167.8M785.0,1166.0L785.5,1140.5L786.0,1166.0M788.8,1165.5L789.2,1135.8L789.7,1165.5M792.5,1175.0L793.0,1152.5L793.5,1175.0M796.5,1164.0L797.0,1152.5L797.5,1164.0M626.0,1126.5L626.5,1110.3L627.0,1126.5M629.0,1129.0L629.5,1124.8L629.9,1129.0M632.2,1135.5L632.6,1118.7L633.1,1135.5M634.6,1142.5L635.1,1131.4L635.5,1142.5M636.5,1139.7L636.9,1115.6L637.4,1139.7M638.9,1145.9L639.4,1136.1L639.8,1145.9M641.8,1146.7L642.2,1138.2L642.7,1146.7M643.5,1143.7L644.0,1125.7L644.4,1143.7M646.5,1135.7L647.0,1124.0L647.4,1135.7M649.8,1144.3L650.2,1125.1L650.7,1144.3M651.7,1146.6L652.2,1138.5L652.6,1146.6M653.5,1147.6L653.9,1135.9L654.4,1147.6M656.0,1149.2L656.5,1125.3L656.9,1149.2M659.3,1150.7L659.7,1141.9L660.2,1150.7M661.0,1149.1L661.5,1136.2L661.9,1149.1M663.1,1152.5L663.6,1134.6L664.0,1152.5M665.7,1154.8L666.1,1144.2L666.6,1154.8M668.8,1157.6L669.3,1143.6L669.7,1157.6M671.6,1159.2L672.1,1135.1L672.5,1159.2M673.5,1160.5L674.0,1135.2L674.5,1160.5M674.7,1161.6L675.1,1147.2L675.6,1161.6M675.7,1162.6L676.1,1149.5L676.6,1162.6M677.2,1157.3L677.7,1140.6L678.1,1157.3M678.4,1162.6L678.8,1154.5L679.3,1162.6M679.9,1160.3L680.3,1143.5L680.8,1160.3M681.4,1156.8L681.8,1148.6L682.3,1156.8M683.2,1157.5L683.6,1148.3L684.1,1157.5M684.4,1159.2L684.9,1136.0L685.3,1159.2M685.8,1159.9L686.3,1154.7L686.7,1159.9M687.2,1159.2L687.7,1138.2L688.1,1159.2M688.8,1152.5L689.2,1138.9L689.7,1152.5M690.2,1159.3L690.6,1141.4L691.1,1159.3M691.6,1162.9L692.1,1147.2L692.5,1162.9M693.4,1164.3L693.9,1141.0L694.3,1164.3M695.2,1164.3L695.7,1146.4L696.1,1164.3M697.0,1162.2L697.5,1156.4L697.9,1162.2M698.4,1157.0L698.8,1145.2L699.3,1157.0M699.7,1165.0L700.2,1151.3L700.6,1165.0M701.4,1166.8L701.9,1148.9L702.3,1166.8M703.3,1158.3L703.7,1138.9L704.2,1158.3M704.4,1160.4L704.9,1138.0L705.3,1160.4M705.6,1155.8L706.1,1132.4L706.5,1155.8M707.4,1166.6L707.9,1156.3L708.3,1166.6M708.6,1166.0L709.0,1147.6L709.5,1166.0M709.9,1168.4L710.4,1151.9L710.8,1168.4M711.2,1169.9L711.7,1160.2L712.1,1169.9M712.5,1170.7L713.0,1162.7L713.4,1170.7M713.9,1162.1L714.3,1144.4L714.8,1162.1M715.3,1171.3L715.8,1162.0L716.2,1171.3M717.2,1167.0L717.6,1154.6L718.1,1167.0M718.4,1152.9L718.9,1134.9L719.3,1152.9M719.7,1161.5L720.1,1148.8L720.6,1161.5M721.4,1165.6L721.9,1145.8L722.3,1165.6M722.8,1164.5L723.3,1144.6L723.7,1164.5M724.3,1158.4L724.8,1148.8L725.2,1158.4M725.6,1149.9L726.0,1133.0L726.5,1149.9M727.0,1157.7L727.4,1152.3L727.9,1157.7M728.5,1155.3L729.0,1145.1L729.4,1155.3M730.1,1157.4L730.5,1143.5L731.0,1157.4M731.9,1158.0L732.3,1141.1L732.8,1158.0M733.7,1166.4L734.2,1150.0L734.6,1166.4M735.3,1159.5L735.8,1150.4L736.2,1159.5M737.2,1172.7L737.6,1149.1L738.1,1172.7M738.2,1169.7L738.6,1156.1L739.1,1169.7M739.8,1175.2L740.2,1161.0L740.7,1175.2M741.0,1176.1L741.5,1162.3L741.9,1176.1M742.3,1169.7L742.7,1148.2L743.2,1169.7M743.3,1174.1L743.8,1161.7L744.2,1174.1M744.8,1175.6L745.2,1162.1L745.7,1175.6M746.0,1171.6L746.5,1154.7L746.9,1171.6M747.6,1168.5L748.1,1150.4L748.5,1168.5M749.5,1166.4L749.9,1154.6L750.4,1166.4M751.4,1172.5L751.8,1160.3L752.3,1172.5M752.7,1166.0L753.2,1158.7L753.6,1166.0M754.5,1171.1L754.9,1159.9L755.4,1171.1M755.9,1171.3L756.3,1159.6L756.8,1171.3M757.7,1169.3L758.1,1149.6L758.6,1169.3M759.2,1161.9L759.6,1152.4L760.1,1161.9M760.6,1167.9L761.1,1154.9L761.5,1167.9M761.6,1168.8L762.1,1153.1L762.5,1168.8M763.5,1168.4L763.9,1154.1L764.4,1168.4M764.5,1164.6L765.0,1146.9L765.4,1164.6M765.8,1162.3L766.3,1151.3L766.7,1162.3M766.9,1168.0L767.4,1156.5L767.8,1168.0M768.1,1168.0L768.6,1158.0L769.0,1168.0M769.4,1163.6L769.8,1151.4L770.3,1163.6M770.9,1167.7L771.4,1151.6L771.8,1167.7M772.2,1165.1L772.6,1149.5L773.1,1165.1M774.0,1171.4L774.5,1153.9L774.9,1171.4M775.6,1172.8L776.1,1150.3L776.5,1172.8M777.0,1171.7L777.4,1156.4L777.9,1171.7M778.1,1166.8L778.6,1150.7L779.0,1166.8M779.2,1168.6L779.6,1144.5L780.1,1168.6M780.7,1166.3L781.2,1143.6L781.6,1166.3M781.8,1161.8L782.3,1142.1L782.7,1161.8M783.4,1174.5L783.8,1164.2L784.3,1174.5M785.1,1166.5L785.6,1151.8L786.0,1166.5M786.2,1175.3L786.6,1163.8L787.1,1175.3M788.0,1165.6L788.5,1149.7L788.9,1165.6M789.5,1175.4L790.0,1154.3L790.4,1175.4M791.2,1168.7L791.6,1160.5L792.1,1168.7M792.6,1175.0L793.0,1161.8L793.5,1175.0M794.4,1175.7L794.8,1162.2L795.3,1175.7M795.4,1172.9L795.9,1152.3L796.3,1172.9M797.2,1161.7L797.6,1144.3L798.1,1161.7M798.8,1174.5L799.3,1160.8L799.7,1174.5M800.3,1173.8L800.7,1157.8L801.2,1173.8M802.5,1170.7L803.0,1118.5L803.5,1170.7M818.3,1169.2L818.8,1131.0L819.2,1169.2M876.2,695.0L876.7,693.8L877.1,695.0M884.5,641.1L885.0,631.6L885.5,641.1M887.9,649.4L888.3,647.7L888.8,649.4M892.5,655.8L893.0,648.8L893.5,655.8M896.2,653.3L896.7,648.2L897.1,653.3M913.5,531.3L914.0,529.7L914.5,531.3M922.6,514.6L923.1,506.3L923.5,514.6M924.9,508.0L925.3,497.0L925.8,508.0M926.6,493.3L927.1,489.0L927.5,493.3M935.5,502.4L936.0,495.0L936.5,502.4M941.3,456.0L941.7,453.7L942.2,456.0M943.9,458.3L944.4,457.0L944.9,458.3M948.9,469.7L949.3,469.0L949.8,469.7M954.9,486.9L955.3,483.0L955.8,486.9M978.6,407.3L979.1,397.7L979.5,407.3M995.3,396.7L995.8,393.8L996.2,396.7M1003.8,390.0L1004.2,385.4L1004.7,390.0M1013.4,408.9L1013.9,407.7L1014.3,408.9M1019.9,375.6L1020.3,374.3L1020.8,375.6M1026.2,358.3L1026.7,348.8L1027.1,358.3M1031.2,330.0L1031.7,309.7L1032.1,330.0M1041.0,384.4L1041.4,381.0L1041.9,384.4M1048.4,406.7L1048.9,406.6L1049.3,406.7M1054.0,396.9L1054.4,395.4L1054.9,396.9M1058.4,396.7L1058.9,394.3L1059.3,396.7M1065.1,420.7L1065.6,416.6L1066.0,420.7M1068.4,387.6L1068.9,373.2L1069.3,387.6M1070.9,405.0L1071.3,391.6L1071.8,405.0M1074.0,440.0L1074.4,429.9L1074.9,440.0M1077.5,435.2L1078.0,434.3L1078.5,435.2M1085.1,432.8L1085.6,432.7L1086.0,432.8M1092.1,407.6L1092.6,401.0L1093.0,407.6M1098.2,387.8L1098.7,378.8L1099.1,387.8M1105.1,378.9L1105.6,367.7L1106.0,378.9M1117.9,431.1L1118.3,429.9L1118.8,431.1M1120.4,435.7L1120.9,432.1L1121.3,435.7M1136.2,478.2L1136.7,452.7L1137.1,478.2M1134.5,479.4L1135.0,472.1L1135.5,479.4M1159.0,451.1L1159.4,449.9L1159.9,451.1M1163.1,455.2L1163.6,451.6L1164.0,455.2M1172.3,476.7L1172.8,476.6L1173.2,476.7M1179.8,465.7L1180.2,463.8L1180.7,465.7M1187.0,456.1L1187.4,455.4L1187.9,456.1M1211.8,441.1L1212.2,439.9L1212.7,441.1M1228.8,531.2L1229.2,529.3L1229.7,531.2M1240.1,488.1L1240.6,487.7L1241.0,488.1M1244.8,513.3L1245.2,512.7L1245.7,513.3M1252.0,515.0L1252.4,514.9L1252.9,515.0M1272.7,438.6L1273.1,433.8L1273.6,438.6M1276.2,455.6L1276.7,453.2L1277.1,455.6M1290.1,453.5L1290.6,449.3L1291.0,453.5M1295.7,453.2L1296.1,452.7L1296.6,453.2M1304.0,439.0L1304.4,434.9L1304.9,439.0M1316.0,468.9L1316.4,468.8L1316.9,468.9M1322.7,447.8L1323.1,444.9L1323.6,447.8M1328.7,464.4L1329.1,463.8L1329.6,464.4M1340.1,465.6L1340.6,465.4L1341.0,465.6M1371.8,435.8L1372.2,435.4L1372.7,435.8M1375.1,441.1L1375.6,434.9L1376.0,441.1M1377.3,436.9L1377.8,434.9L1378.2,436.9M1379.0,440.0L1379.4,438.8L1379.9,440.0M1382.9,460.2L1383.3,458.2L1383.8,460.2M1388.4,454.4L1388.9,454.4L1389.3,454.4M1391.5,452.2L1392.0,452.2L1392.5,452.2M1414.0,464.0L1414.4,462.7L1414.9,464.0M1424.0,455.6L1424.4,449.3L1424.9,455.6M1431.8,468.9L1432.2,468.8L1432.7,468.9M1435.1,470.0L1435.6,469.3L1436.0,470.0M1465.1,485.2L1465.6,474.3L1466.0,485.2M1473.4,515.9L1473.9,487.1L1474.3,515.9M1485.1,502.9L1485.6,501.0L1486.0,502.9M1489.5,503.6L1490.0,499.9L1490.5,503.6M1494.0,526.2L1494.4,524.9L1494.9,526.2M1498.4,527.8L1498.9,526.6L1499.3,527.8M1511.0,512.2L1511.4,511.6L1511.9,512.2M1515.1,522.8L1515.6,508.2L1516.0,522.8M1519.5,523.3L1520.0,522.7L1520.5,523.3M1530.3,524.4L1530.8,523.8L1531.2,524.4M1545.7,509.8L1546.1,508.8L1546.6,509.8M1551.2,504.6L1551.7,503.8L1552.1,504.6M1555.1,500.9L1555.6,499.9L1556.0,500.9M1561.2,512.9L1561.7,512.1L1562.1,512.9M1568.2,494.3L1568.7,487.7L1569.1,494.3M1570.4,495.6L1570.9,494.9L1571.3,495.6M1575.1,506.3L1575.6,505.4L1576.0,506.3M1582.3,520.7L1582.8,517.7L1583.2,520.7M1585.7,514.3L1586.1,513.8L1586.6,514.3M1594.2,508.9L1594.7,471.0L1595.1,508.9M1596.2,511.1L1596.7,496.6L1597.1,511.1M1602.3,491.1L1602.8,489.3L1603.2,491.1M1612.9,495.6L1613.3,495.4L1613.8,495.6M1622.3,496.7L1622.8,494.9L1623.2,496.7M1628.4,480.3L1628.9,478.8L1629.3,480.3M1641.0,466.5L1641.4,461.6L1641.9,466.5M1644.5,469.1L1645.0,468.6L1645.5,469.1M1656.4,416.7L1656.9,414.9L1657.3,416.7M1671.4,345.0L1671.8,340.6L1672.3,345.0M1681.0,394.4L1681.5,394.3L1682.0,394.4M1686.9,384.3L1687.3,378.9L1687.8,384.3M1690.0,394.2L1690.4,392.7L1690.9,394.2M1693.3,395.7L1693.8,392.7L1694.2,395.7M1702.5,382.1L1702.9,381.4L1703.4,382.1M1709.7,399.3L1710.2,393.9L1710.6,399.3M1722.5,363.8L1722.9,359.8L1723.4,363.8"/>
<polyline stroke="#000000" stroke-width="2.1" points="279.6,174.6 280.4,177.7 284.6,188.1 287.7,199.6 289.8,214.2 291.5,232.9 292.9,253.8 294.6,285.0 296.7,326.7 299.2,368.3 302.3,410.0 305.8,460.0 306.7,481.7 309.4,523.3 311.5,565.0 313.3,590.0 315.4,612.9 317.0,627.9 317.2,617.5 317.4,631.0 318.1,637.9 321.2,665.0 322.6,677.1 322.8,661.2 323.0,680.8 323.3,683.8 325.4,706.7 328.8,751.2 330.2,782.5 332.5,820.0 335.0,853.3 337.1,878.3 338.1,883.5 341.2,890.8 344.4,903.3 347.5,920.0 350.6,940.8 353.3,959.6 356.7,976.2 359.8,990.8"/>
<polyline stroke="#000000" stroke-width="2.4" points="359.8,990.8 362.0,1000.0 363.0,1002.5 364.0,1012.0 365.0,1010.0 365.5,1007.0 366.2,1008.2 367.0,1010.0 368.0,1017.5 369.0,1014.0 370.0,1015.4 371.0,1017.0 372.0,1017.7 373.0,1020.0 373.8,1020.0 374.5,1019.4 375.2,1019.6 376.0,1020.0 376.8,1021.0 377.5,1022.0 378.0,1028.0 379.0,1027.0 379.5,1022.0 380.2,1020.9 381.0,1021.0 381.8,1030.0 382.5,1023.0 383.5,1021.5 384.5,1020.0 385.5,1022.0 386.2,1023.5 387.0,1026.0 387.5,1031.0 388.5,1029.0 389.2,1031.5 390.0,1034.0 390.5,1038.0 391.2,1037.4 392.0,1037.0 392.5,1042.0 393.5,1045.5 394.5,1050.0 394.7,1062.5 395.5,1056.0 396.5,1044.0 397.0,1040.0 398.0,1065.0 399.0,1067.0 400.0,1060.0 401.0,1076.0 402.0,1062.0 403.0,1070.0 403.8,1076.4 404.5,1085.0 405.5,1074.0 406.2,1080.4 407.0,1087.0 407.8,1070.0 409.0,1086.0 410.0,1080.0 411.0,1078.0 412.0,1083.0 413.0,1082.3 414.0,1082.0 415.0,1080.2 416.0,1080.0 417.0,1080.2 418.0,1083.0 419.0,1079.0 420.0,1084.0 421.0,1078.0 422.0,1086.0 422.8,1086.8 423.5,1089.0 424.2,1092.1 425.0,1096.0 426.0,1099.1 427.0,1105.0 427.8,1108.0 428.5,1111.0 429.2,1111.6 430.0,1114.5 430.8,1111.5 431.5,1109.0 432.5,1118.0 433.5,1120.9 434.5,1124.0 435.0,1118.5 436.0,1117.7 437.0,1117.0 438.0,1119.0 439.0,1115.0 440.0,1114.2 441.0,1114.0 442.0,1112.2 443.0,1112.5 443.8,1111.6 444.5,1111.0 445.0,1103.0 445.5,1110.0 446.5,1108.3 447.5,1108.0 448.3,1106.2 449.2,1105.6 450.0,1105.0 451.0,1095.0 452.0,1093.0 452.5,1102.5 453.5,1092.0 454.2,1090.6 455.0,1090.5 456.0,1090.7 457.0,1091.0 458.0,1094.0 459.0,1096.7 460.0,1099.5 461.0,1099.1 462.0,1099.0 463.0,1097.2 464.0,1097.0 465.0,1094.5 466.0,1093.0 467.0,1083.5 468.0,1090.0 469.0,1089.4 470.0,1089.5 470.8,1087.1 471.5,1086.0 472.5,1077.0 473.2,1077.2 474.0,1078.5 475.0,1081.0 475.8,1083.2 476.5,1086.0 477.2,1087.0 478.0,1090.0 479.0,1091.6 480.0,1095.0 480.8,1095.5 481.5,1096.5 482.5,1094.0 483.5,1074.0 484.5,1091.0 485.5,1088.0 486.5,1093.0 487.5,1092.3 488.5,1093.0 489.2,1097.9 490.0,1104.0 491.0,1096.0 492.0,1102.0 493.0,1097.0 493.8,1094.8 494.5,1095.0 495.2,1097.1 496.0,1101.0 496.8,1097.7 497.5,1095.0 498.2,1094.1 499.0,1096.0 500.0,1085.0 500.5,1095.0 501.5,1094.4 502.5,1094.0 503.3,1091.9 504.2,1089.7 505.0,1089.0 505.8,1087.9 506.7,1086.4 507.5,1086.0 508.2,1087.5 509.0,1089.0 510.0,1088.7 511.0,1090.0 511.8,1088.3 512.5,1087.8 513.2,1086.6 514.0,1087.0 514.8,1086.2 515.7,1085.1 516.5,1085.5 517.3,1085.8 518.2,1086.8 519.0,1088.5 519.8,1088.9 520.5,1089.1 521.2,1089.8 522.0,1092.0 522.8,1092.5 523.7,1093.2 524.5,1095.0 525.3,1094.1 526.2,1092.5 527.0,1092.5 527.8,1091.3 528.5,1090.4 529.2,1090.3 530.0,1091.0 531.0,1089.2 532.0,1088.0 532.8,1087.7 533.5,1087.4 534.2,1088.4 535.0,1088.5 535.8,1088.1 536.5,1088.6 537.2,1088.8 538.0,1089.0 539.0,1091.0 540.0,1093.0 542.0,1094.5 543.0,1093.4 544.0,1094.0 545.0,1089.0 546.0,1092.0 546.8,1087.4 547.5,1083.0 548.5,1097.0 549.2,1094.8 550.0,1093.0 550.8,1091.6 551.5,1091.0 552.5,1085.0 553.5,1090.0 554.2,1088.7 555.0,1089.5 555.8,1090.2 556.5,1091.0 557.5,1090.0 558.0,1028.5 558.5,1093.0 559.5,1087.0 560.2,1088.1 561.0,1090.0 561.8,1089.9 562.5,1091.0 563.2,1089.2 564.0,1089.5 564.8,1085.0 565.5,1090.0 566.2,1090.8 567.0,1093.5 567.8,1093.0 568.5,1094.5 569.8,1090.0 570.5,1093.0 571.2,1094.8 572.0,1097.0 573.0,1097.9 574.0,1099.5 574.8,1098.9 575.5,1099.0 576.5,1098.0 577.5,1099.5 578.8,1102.0 580.0,1099.5 581.0,1098.0 582.0,1098.5 583.0,1096.6 584.0,1097.0 584.8,1095.9 585.5,1095.0 586.5,1092.0 587.0,1085.0 588.0,1091.0 589.0,1089.0 590.0,1087.0 590.8,1086.6 591.5,1086.5 592.5,1085.0 593.0,1074.5 593.5,1086.0 594.5,1089.5 595.2,1088.8 596.0,1088.5 597.0,1086.0 597.8,1085.6 598.5,1085.5 599.2,1085.5 600.0,1086.5 600.8,1087.1 601.5,1089.0 602.2,1089.8 603.0,1091.0 603.8,1092.0 604.5,1093.0 605.2,1094.9 606.0,1097.5 606.8,1099.2 607.5,1101.5 608.2,1102.7 609.0,1105.0 609.8,1103.1 610.5,1103.5 611.5,1109.0 612.2,1110.8 613.0,1114.0 613.8,1115.5 614.5,1118.0 615.2,1118.4 616.0,1120.0 617.0,1121.0 617.5,1081.0 618.0,1121.0 619.0,1121.5 620.0,1123.5 620.8,1123.6 621.5,1122.7 622.2,1123.0 623.0,1124.0 627.5,1129.0 628.5,1127.5 629.5,1129.0 630.2,1129.7 631.0,1133.0 631.8,1133.5 632.5,1135.0 633.2,1137.5 634.0,1141.0 634.8,1141.9 635.5,1143.0 636.8,1139.0 638.0,1145.0 638.8,1144.5 639.5,1146.0 640.0,1134.0 640.8,1146.5 642.0,1147.0 642.8,1146.0 643.5,1145.0 644.2,1142.9 645.0,1141.0 645.8,1139.8 646.5,1139.0 647.5,1132.0 648.2,1141.0 649.1,1142.3 650.0,1144.0 651.0,1144.8 652.0,1146.5 652.8,1147.0 653.7,1147.5 654.5,1148.0 655.3,1148.3 656.2,1148.9 657.0,1149.5 658.3,1143.0 659.0,1150.0 660.0,1150.5 661.0,1152.0 661.8,1147.5 662.5,1143.0 663.5,1152.5 664.5,1151.7 665.5,1154.0 666.3,1154.0 667.2,1155.8 668.0,1157.0 668.8,1157.1 669.5,1157.3 670.2,1157.6 671.0,1158.5 671.8,1158.9 672.5,1158.0 673.2,1158.2 674.0,1160.5 674.8,1160.0 675.7,1160.8 676.5,1163.0 677.5,1156.0 678.5,1163.0 679.2,1161.9 680.0,1161.0 680.8,1159.3 681.5,1158.0 682.8,1153.0 683.8,1158.5 684.5,1158.1 685.3,1158.9 686.0,1160.0 687.0,1156.8 688.0,1159.0 688.8,1154.7 689.5,1151.0 690.5,1159.0 691.5,1161.5 692.5,1164.0 693.3,1160.9 694.2,1162.8 695.0,1164.5 696.0,1164.0 697.0,1164.0 697.9,1158.9 698.8,1157.0 699.5,1164.0 700.5,1165.5 701.5,1167.0 702.5,1165.0 703.5,1166.0 704.0,1150.0 705.0,1162.0 706.0,1155.0 707.0,1167.0 708.0,1163.1 709.0,1166.0 710.0,1164.9 711.0,1169.5 711.8,1167.8 712.7,1169.9 713.5,1171.0 714.5,1160.0 715.5,1171.5 716.5,1169.8 717.5,1170.0 718.5,1149.0 719.5,1159.0 720.2,1161.7 721.0,1165.0 721.8,1163.0 722.5,1166.0 723.5,1162.5 724.5,1162.0 725.8,1145.0 726.5,1160.0 727.5,1152.4 728.5,1155.0 729.2,1153.8 730.0,1156.0 730.8,1157.0 731.5,1160.0 732.5,1157.5 733.5,1165.0 734.2,1161.2 735.0,1168.0 735.8,1159.0 736.8,1170.0 738.0,1174.0 738.8,1162.1 739.5,1164.0 740.0,1175.0 741.0,1170.1 742.0,1176.5 743.0,1167.0 744.0,1176.5 745.0,1170.5 746.0,1175.0 746.8,1164.1 747.5,1164.0 748.5,1172.0 749.5,1162.5 750.5,1171.5 751.5,1167.5 752.5,1173.0 753.2,1164.2 754.0,1157.5 755.0,1172.0 756.0,1168.5 757.0,1171.0 758.0,1167.7 759.0,1168.0 759.5,1161.0 760.5,1167.0 761.2,1168.2 762.0,1169.5 763.0,1159.0 764.0,1169.0 765.0,1164.4 766.0,1160.0 767.0,1168.0 768.0,1166.7 769.0,1168.0 769.8,1162.8 770.5,1160.0 771.5,1169.0 772.5,1161.2 773.5,1162.0 774.5,1171.5 775.3,1165.6 776.2,1170.4 777.0,1173.5 778.0,1162.8 779.0,1165.0 780.0,1171.0 780.8,1160.8 781.7,1157.7 782.5,1161.0 783.5,1176.0 784.5,1169.1 785.5,1166.0 786.5,1176.0 787.3,1170.7 788.2,1166.3 789.0,1163.0 790.0,1175.5 791.0,1170.4 792.0,1167.0 793.0,1175.0 793.8,1174.4 794.7,1171.9 795.5,1176.0 796.5,1161.9 797.5,1160.0 798.5,1175.0 799.2,1168.9 800.0,1174.0 801.0,1172.3 801.8,1165.5 802.5,1171.1 803.2,1160.1 804.0,1169.8 804.8,1160.5 805.5,1168.5 806.2,1160.5 807.0,1167.0 807.8,1161.9 808.5,1171.0 809.2,1163.5 810.0,1172.5 810.8,1161.2 811.5,1173.7 812.2,1165.3 813.0,1174.2 813.8,1161.2 814.5,1173.9 815.2,1159.2 816.0,1172.2 816.8,1151.8 817.5,1170.5 818.2,1156.8 819.0,1169.0 819.8,1154.4 820.5,1166.5 821.2,1155.6 822.0,1162.0 822.8,1147.2 823.5,1155.2 824.2,1145.6 825.0,1144.3 825.8,1122.8 826.5,1120.0 827.2,1105.7 828.0,1106.0 828.8,1101.7 829.5,1114.0 830.2,1112.0 831.0,1140.0 831.8,1126.3 832.5,1144.5 833.2,1127.3 834.0,1150.0 834.8,1132.9 835.5,1155.8 836.2,1145.2 837.0,1161.0 837.8,1142.1 838.5,1163.5 839.2,1143.2 840.0,1161.0 840.8,1148.4 841.5,1161.0 842.2,1150.2 843.0,1161.0 843.8,1147.0 844.5,1154.0 845.2,1140.3 846.0,1155.2 846.8,1146.5 847.5,1156.6 848.2,1144.6 849.0,1158.4 849.8,1145.5 850.5,1158.0 851.2,1149.2 852.0,1158.4 852.8,1147.5 853.5,1162.5 854.2,1152.0 855.0,1159.1 855.8,1148.2 856.5,1155.6 857.2,1145.8 858.0,1152.0 858.8,1134.8 859.5,1142.0 860.2,1130.7 861.0,1141.0 861.8,1132.0 862.5,1138.6 863.2,1123.7 864.0,1110.0 864.8,1060.0"/>
<polyline stroke="#000000" stroke-width="2.1" points="864.8,1060.0 865.3,980.0 866.7,880.0 868.3,813.3 870.7,766.7"/>
<polyline stroke="#000000" stroke-width="2.25" points="870.7,766.7 873.1,730.0 873.9,714.4 875.0,702.2 876.7,695.0 878.3,701.1 880.6,712.2 881.7,697.8 882.8,681.1 883.9,658.9 885.0,641.1 885.8,655.6 887.2,651.1 888.7,648.9 890.0,654.4 891.7,671.1 892.8,656.7 893.3,654.4 894.7,674.4 896.1,655.6 897.2,651.1 898.9,651.7 899.8,645.6 900.6,632.2 901.7,617.8 903.3,597.8 904.4,586.7 906.1,578.9 907.8,570.0"/>
<polyline stroke="#000000" stroke-width="2.4" points="907.8,570.0 908.0,562.7 910.0,556.0 912.0,553.3 913.3,548.0 914.0,531.3 915.6,546.7 916.7,544.0 918.7,526.7 920.0,521.3 922.0,516.0 924.0,513.3 926.0,505.3 927.1,493.3 928.0,506.0 929.3,505.3 930.7,488.7 932.0,490.7 934.0,498.7 935.3,508.7 936.4,498.7 937.7,509.3 939.1,492.0 940.4,472.0 941.7,456.0 943.1,463.3 944.7,457.3 946.0,466.7 947.1,473.3 948.7,469.3 950.0,470.0 951.3,478.7 953.3,484.0 954.4,490.7 955.7,485.3 957.1,490.0 958.3,481.3 960.0,480.0 961.3,473.3 963.3,472.7 964.7,458.7 966.7,452.0 968.0,453.3 969.7,448.7 970.7,450.0 972.0,442.7 974.0,436.0 975.3,432.7 977.3,434.7 978.7,408.0 979.1,407.3 980.0,430.7 982.0,434.7 984.7,435.3 986.7,426.7 988.0,422.0 989.3,427.3 991.3,426.7 992.4,410.0 994.4,412.2 995.8,396.7 996.9,417.8 998.3,425.6 999.4,410.0 1000.6,400.0 1002.2,393.9 1003.3,396.7 1004.2,390.0 1005.0,407.8 1006.1,412.2 1008.3,418.9 1010.0,417.8 1011.7,422.8 1012.8,423.3 1013.9,408.9 1015.0,415.6 1016.1,409.4 1017.8,405.6 1018.9,400.0 1020.3,375.6 1021.3,391.1 1022.8,394.4 1024.4,397.8 1025.6,385.6 1026.7,358.3 1027.6,381.1 1028.9,384.4 1030.0,378.9 1030.9,345.6 1031.7,330.0 1032.4,356.7 1033.3,385.6 1035.0,387.8 1036.1,395.6 1037.2,410.0 1038.3,418.9 1039.4,426.7 1040.6,412.2 1041.4,384.4 1042.2,415.6 1043.6,423.3 1045.0,419.4 1047.2,418.9 1048.7,406.7 1050.0,406.7 1051.7,408.9 1052.8,414.4 1053.9,396.7 1055.6,397.2 1057.2,400.6 1058.9,396.7 1060.9,396.7 1061.7,406.7 1062.8,418.9 1064.2,427.8 1065.3,420.0 1066.4,423.3 1067.8,421.1 1068.3,401.1 1069.1,382.2 1070.0,410.6 1071.1,398.9 1072.0,423.3 1072.8,442.2 1073.9,436.7 1075.6,446.7 1076.7,441.1 1077.8,434.4 1079.4,440.0 1081.1,442.2 1083.3,442.8 1085.0,433.3 1086.1,432.2 1087.2,437.8 1088.9,426.7 1090.6,422.2 1091.7,424.4 1092.8,403.3 1093.9,412.2 1095.0,423.3 1096.7,422.2 1097.8,412.2 1098.7,387.8 1099.4,414.4 1101.1,415.6 1102.8,423.3 1104.4,401.1 1105.8,374.4 1106.9,401.1 1108.3,413.3 1110.0,404.4 1111.1,401.1 1113.3,401.1 1114.4,407.8 1116.1,423.3 1117.2,436.7 1118.3,431.1 1119.4,438.9 1120.6,433.3 1121.7,441.1 1123.3,445.6 1125.0,447.8 1126.7,444.4 1127.4,443.9 1128.6,448.9 1130.0,462.2 1131.1,471.1 1132.2,481.1 1133.9,483.3 1135.0,479.4 1136.1,484.4 1137.0,474.4 1137.8,486.7 1138.9,493.3 1140.6,491.1 1141.7,495.6 1142.8,501.7 1144.1,503.3 1145.6,496.7 1147.2,502.2 1148.3,511.1 1150.0,505.6 1151.1,497.8 1152.2,485.6 1153.3,477.8 1154.4,478.9 1155.6,474.4 1156.7,457.8 1157.8,452.2 1159.4,451.1 1160.3,456.7 1161.4,451.7 1162.8,463.3 1163.9,451.7 1165.0,455.6 1166.1,475.6 1167.8,480.0 1168.9,487.8 1170.3,492.2 1171.7,482.2 1172.8,476.7 1173.9,480.0 1175.2,484.4 1176.7,476.7 1178.3,476.1 1179.4,470.0 1180.6,463.9 1181.7,467.8 1183.0,471.7 1184.4,467.8 1185.6,462.2 1187.2,455.6 1188.9,460.0 1191.7,461.7 1193.9,466.7 1195.6,469.4 1197.0,469.4 1198.3,460.0 1199.8,452.2 1201.7,458.9 1203.3,456.1 1205.6,457.8 1207.2,453.3 1208.3,451.7 1210.3,457.8 1211.4,446.7 1212.2,441.1 1213.3,453.3 1214.4,468.9 1216.1,487.8 1217.4,495.6 1218.9,486.7 1220.0,481.1 1221.1,463.3 1221.9,462.2 1222.8,488.9 1223.9,511.1 1225.0,525.6 1226.1,533.3 1227.2,540.6 1228.9,529.4 1230.6,538.3 1231.7,533.3 1233.3,521.1 1235.0,511.1 1236.1,505.6 1237.8,505.0 1238.9,507.8 1240.0,488.9 1240.8,487.8 1241.9,505.6 1243.0,523.3 1244.4,519.4 1245.2,513.3 1246.3,516.7 1247.8,520.0 1249.4,517.2 1251.1,516.7 1252.4,515.0 1253.9,518.9 1255.6,521.7 1257.2,518.3 1258.9,515.6 1260.6,506.7 1261.7,498.9 1263.3,492.2 1265.0,481.1 1266.7,466.7 1268.3,465.0 1270.6,463.3 1272.0,457.8 1272.8,440.0 1273.6,436.7 1274.4,454.4 1275.8,460.0 1276.9,454.4 1278.3,462.2 1279.4,455.6 1280.6,443.3 1282.0,441.7 1283.3,444.4 1285.0,447.8 1286.1,452.2 1287.8,454.4 1288.9,456.7 1289.8,461.7 1290.9,450.0 1292.2,455.6 1293.1,446.7 1293.9,445.0 1294.7,461.1 1295.8,452.2 1297.2,456.7 1298.3,464.4 1299.4,455.0 1300.6,456.7 1301.7,459.4 1302.8,452.2 1303.9,442.2 1304.7,437.8 1305.8,444.4 1306.9,443.9 1308.0,440.6 1309.4,442.2 1310.6,446.7 1311.7,451.1 1312.8,465.6 1313.9,472.2 1315.3,471.7 1316.4,468.9 1317.8,473.3 1319.1,472.8 1320.6,471.1 1321.7,458.9 1322.4,452.2 1323.1,447.8 1323.9,455.6 1325.0,465.6 1326.4,463.3 1327.8,467.8 1329.1,464.4 1331.1,467.8 1332.8,471.1 1334.2,476.7 1336.1,478.9 1337.8,476.7 1339.1,472.2 1340.6,465.6 1342.0,474.4 1343.3,472.8 1345.0,465.6 1346.4,457.8 1347.8,456.7 1348.9,460.0 1350.6,456.1 1352.2,456.7 1353.9,459.4 1355.6,460.0 1357.2,465.6 1358.9,471.1 1360.2,474.4 1361.7,470.0 1363.1,466.7 1365.0,464.4 1366.7,462.2 1368.0,462.2 1368.9,452.2 1370.0,438.9 1371.7,436.7 1372.8,435.0 1373.9,453.3 1375.0,434.4 1376.1,447.8 1377.2,434.4 1378.3,439.4 1379.4,440.0 1380.2,456.7 1381.3,470.0 1382.2,471.7 1383.1,461.1 1383.9,457.8 1385.0,465.6 1386.1,458.9 1387.8,456.7 1388.9,454.4 1390.0,456.7 1391.1,455.6 1392.0,452.2 1393.1,458.9 1394.4,465.6 1395.8,464.4 1397.2,477.8 1398.9,474.4 1400.2,477.8 1401.3,483.3 1402.8,480.0 1404.4,478.9 1406.7,476.7 1408.9,473.9 1411.1,470.6 1412.8,472.2 1413.9,465.6 1414.7,463.3 1415.6,470.0 1416.7,475.6 1417.8,478.9 1418.9,486.1 1420.6,486.7 1422.8,484.4 1423.9,456.7 1424.8,455.0 1425.6,482.2 1426.7,483.3 1428.3,477.8 1430.0,475.6 1431.1,470.0 1432.2,468.9 1433.7,472.2 1435.6,470.0 1437.2,473.3 1439.4,475.0 1441.1,481.1 1442.8,483.9 1444.1,480.6 1445.9,480.0 1447.2,483.3 1448.9,482.2 1450.0,485.6 1451.4,487.8 1452.8,483.3 1454.4,481.1 1456.1,478.3 1457.8,477.8 1459.2,481.1 1460.3,487.8 1461.7,491.1 1463.3,493.9 1464.4,487.8 1465.9,484.4 1467.0,486.7 1468.1,490.0 1469.2,493.3 1470.3,491.1 1471.4,503.3 1472.2,514.4 1473.7,517.8 1474.4,511.1 1475.2,521.1 1476.7,523.3 1478.3,521.1 1480.0,516.7 1481.7,514.4 1483.3,506.7 1484.8,502.2 1486.1,503.3 1487.8,505.0 1489.2,506.7 1490.3,502.2 1491.1,514.4 1492.2,523.3 1493.7,527.8 1494.8,525.6 1496.1,533.9 1497.4,530.0 1498.9,527.8 1500.6,529.4 1502.8,530.0 1505.0,532.8 1506.7,527.8 1508.3,524.4 1510.0,516.7 1511.4,512.2 1512.6,516.7 1513.9,523.3 1515.6,522.8 1517.0,526.7 1518.3,525.0 1520.0,523.3 1521.4,525.6 1523.3,527.8 1525.0,530.6 1527.2,528.3 1528.9,527.2 1530.8,524.4 1532.2,530.0 1534.1,534.4 1535.6,532.2 1537.2,525.6 1538.9,521.1 1540.6,517.8 1542.2,515.6 1543.9,511.1 1545.6,510.0 1547.2,509.4 1549.4,511.1 1551.1,504.4 1552.8,505.0 1554.4,502.2 1555.9,500.6 1558.1,502.2 1559.4,508.9 1560.6,513.3 1561.9,512.8 1562.0,513.3 1563.3,520.0 1564.8,524.4 1566.1,517.8 1567.2,511.1 1568.3,496.7 1569.1,491.1 1570.0,496.7 1570.9,495.6 1572.0,508.9 1573.1,515.6 1574.2,512.2 1575.3,506.1 1576.9,507.8 1578.3,520.0 1579.8,532.2 1581.1,531.1 1582.2,525.6 1583.1,517.8 1584.2,521.1 1585.3,515.6 1586.7,513.3 1587.8,522.2 1588.9,538.9 1589.8,547.8 1590.9,553.9 1592.0,546.7 1593.1,540.0 1594.2,522.2 1594.7,508.9 1595.6,522.2 1596.7,511.1 1597.8,512.2 1598.9,507.8 1600.6,501.1 1601.7,495.6 1602.8,491.1 1604.4,492.2 1605.6,497.8 1606.9,504.4 1608.3,511.1 1609.4,511.7 1610.6,505.6 1611.7,497.8 1613.3,495.6 1615.0,497.8 1616.4,502.2 1617.8,503.9 1619.4,500.6 1621.1,498.9 1622.8,496.7 1624.2,499.4 1625.6,493.3 1626.7,491.1 1627.8,487.8 1628.7,480.0 1629.4,481.1 1630.2,500.0 1631.3,511.1 1632.4,520.0 1633.6,525.6 1635.0,516.7 1636.4,508.9 1637.8,505.6 1638.9,500.0 1640.0,483.3 1640.9,468.9 1641.7,465.6 1642.8,475.6 1643.9,469.4 1645.6,468.9 1646.7,475.6 1648.0,483.3 1649.4,487.2 1650.9,482.2 1652.2,475.6 1653.6,464.4 1654.4,450.0 1655.3,427.8 1656.1,419.4 1657.2,415.6 1658.3,420.0 1659.4,425.6 1661.1,429.4 1662.4,430.6 1663.9,424.4 1665.6,416.7 1666.2,408.3 1667.1,398.3 1667.9,390.0 1668.5,379.2 1669.2,369.2 1670.0,366.7 1670.8,354.2 1671.5,345.0 1672.1,345.0 1672.7,358.3 1673.3,366.7 1674.2,375.0 1675.0,381.7 1675.8,387.5 1676.8,391.7 1677.9,402.5 1679.0,411.2 1679.8,400.0 1680.7,395.8 1681.7,394.2 1682.5,404.2 1683.3,410.8 1684.2,413.3 1685.2,412.5 1686.0,406.7 1686.7,391.7 1687.2,384.2 1687.9,385.0 1688.5,398.3 1689.2,404.2 1689.8,406.7 1690.4,394.2 1691.0,395.0 1691.7,400.0 1692.7,403.3 1693.5,394.2 1694.2,398.3 1695.4,400.8 1696.7,400.4 1697.9,396.7 1699.2,395.8 1700.0,391.7 1701.0,386.7 1702.1,386.7 1702.9,382.1 1703.8,388.3 1704.6,393.3 1705.7,396.7 1706.7,398.3 1707.5,407.5 1708.3,410.0 1709.2,409.2 1709.8,400.0 1710.4,398.8 1711.0,411.7 1711.7,416.2 1712.7,412.5 1713.8,407.5 1714.8,400.8 1715.8,397.5 1716.7,391.7 1717.7,384.2 1718.5,382.1 1719.6,380.8 1720.7,376.7 1721.5,370.0 1722.3,365.0 1723.2,363.3 1724.2,364.2 1725.0,360.0 1725.8,356.7 1726.5,348.3 1727.1,341.7 1727.7,335.0 1728.8,330.8 1729.3,322.5 1730.0,312.5 1730.8,307.5"/>
<polyline stroke="#000000" stroke-width="2.1" points="1730.8,307.5 1732.4,286.1 1733.3,280.6 1734.7,272.2 1736.1,259.7 1737.2,245.8 1738.3,231.9 1739.7,215.3 1740.7,202.8 1741.7,200.0 1742.8,187.5 1743.5,184.4 1745.6,184.4 1747.6,181.9 1748.6,177.8 1749.7,172.2 1751.8,166.0 1753.9,162.5 1756.7,159.0 1757.8,153.5 1760.8,153.9 1762.9,152.8 1764.3,150.7 1766.4,148.6 1768.5,145.1 1771.2,141.7 1774.0,137.8 1776.8,135.4 1779.6,132.6 1782.4,131.2 1784.4,128.5 1787.2,125.0 1790.7,120.8 1794.2,116.0 1796.9,113.2 1799.7,112.5 1806.7,112.2"/>
</g>
<rect x="280.5" y="112.5" width="1526.0" height="1066.0" fill="none" stroke="#000" stroke-width="3.33" stroke-linejoin="miter"/>
<rect x="300" y="133" width="321" height="138" rx="8.3" ry="8.3" fill="#fff" fill-opacity="0.8" stroke="#ccc" stroke-opacity="0.8" stroke-width="4.17"/>
<line x1="315.95" y1="168" x2="401.05" y2="168" stroke="#f00" stroke-width="2.08"/>
<line x1="315.95" y1="231" x2="401.05" y2="231" stroke="#000" stroke-width="2.08"/>
<text class="t10" x="433.15" y="183">Peak</text>
<text class="t10" x="433.05" y="245">Average</text>
<text class="t12" x="1042.8" y="87" text-anchor="middle" letter-spacing="-0.021">Peak field sums for BR002C_20251214_224204_652770</text>
<text class="t10" x="1043" y="1387" text-anchor="middle">Time</text>
<text class="t10" transform="translate(81.7,646.05) rotate(-90)" text-anchor="middle">ADU</text>
<text class="t10" x="109" y="241.0">2<tspan dx="7.5">×</tspan><tspan dx="7.9" letter-spacing="0.6">10</tspan><tspan class="t7" dx="-1.1" dy="-16">8</tspan></text>
<text class="t10" x="179" y="728.0"><tspan letter-spacing="-0.5">10</tspan><tspan class="t7" dx="1.0" dy="-16">8</tspan></text>
<text class="t10" x="109" y="1086.0">6<tspan dx="7.5">×</tspan><tspan dx="7.9" letter-spacing="0.6">10</tspan><tspan class="t7" dx="-1.1" dy="-16">7</tspan></text>
<text class="t10" transform="translate(402.0,1234.4) rotate(-30)" text-anchor="end">12-14 23</text>
<text class="t10" transform="translate(565.0,1234.4) rotate(-30)" text-anchor="end">12-15 00</text>
<text class="t10" transform="translate(728.0,1234.4) rotate(-30)" text-anchor="end">12-15 01</text>
<text class="t10" transform="translate(891.0,1234.4) rotate(-30)" text-anchor="end">12-15 02</text>
<text class="t10" transform="translate(1054.0,1234.4) rotate(-30)" text-anchor="end">12-15 03</text>
<text class="t10" transform="translate(1217.0,1234.4) rotate(-30)" text-anchor="end">12-15 04</text>
<text class="t10" transform="translate(1380.0,1234.4) rotate(-30)" text-anchor="end">12-15 05</text>
<text class="t10" transform="translate(1543.0,1234.4) rotate(-30)" text-anchor="end">12-15 06</text>
<text class="t10" transform="translate(1706.0,1234.4) rotate(-30)" text-anchor="end">12-15 07</text>
<text class="t10" transform="translate(1869.0,1234.4) rotate(-30)" text-anchor="end">12-15 08</text>
</svg></body></html>
